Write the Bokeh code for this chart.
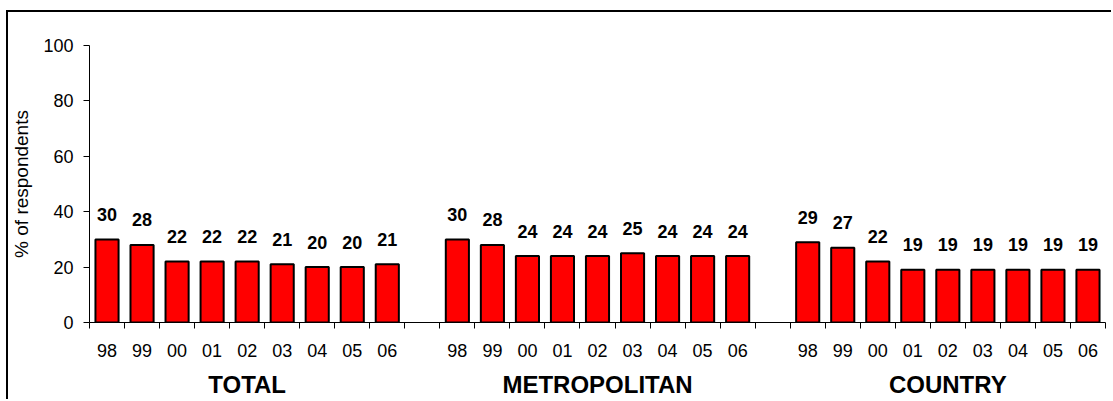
from bokeh.plotting import figure
from bokeh.models import FixedTicker, LinearAxis, Range1d
from bokeh.core.properties import value
from bokeh.embed import file_html
from bokeh.resources import INLINE

groups = ["TOTAL", "METROPOLITAN", "COUNTRY"]
years = ["98", "99", "00", "01", "02", "03", "04", "05", "06"]
total = [30, 28, 22, 22, 22, 21, 20, 20, 21]
metropolitan = [30, 28, 24, 24, 24, 25, 24, 24, 24]
country = [29, 27, 22, 19, 19, 19, 19, 19, 19]
y_ticks = [0, 20, 40, 60, 80, 100]

series = [total, metropolitan, country]
FONT = "Liberation Sans"

xs, tops, labels = [], [], []
overrides = {}
for g, vals in enumerate(series):
    for i, v in enumerate(vals):
        c = g * 10 + i + 0.5
        xs.append(c)
        tops.append(v)
        labels.append(str(v))
        overrides[c] = years[i]

n_slots = len(groups) * len(years) + (len(groups) - 1)

p = figure(width=1105, height=389, output_backend="svg", toolbar_location=None,
           x_range=Range1d(0, n_slots), y_range=Range1d(0, 100),
           min_border_left=81, min_border_right=8, min_border_top=33, min_border_bottom=79,
           x_axis_location=None, y_axis_location=None)
p.margin = (10, 0, 0, 6)
p.styles = {"border-left": "2px solid black", "border-top": "2px solid black"}
p.grid.visible = False
p.outline_line_color = None
p.background_fill_color = "white"
p.border_fill_color = "white"

p.vbar(x=xs, top=tops, width=0.66, fill_color="#FF0000", line_color="black", line_width=2)
p.text(x=xs, y=tops, text=labels, text_align="center", text_baseline="alphabetic",
       y_offset=-25, text_font=value(FONT), text_font_style="bold", text_font_size="18px",
       text_color="black")

# y axis
ya = LinearAxis(ticker=FixedTicker(ticks=y_ticks, minor_ticks=[]))
ya.axis_label = "% of respondents"
ya.axis_label_text_font = FONT
ya.axis_label_text_font_style = "normal"
ya.axis_label_text_font_size = "19px"
ya.axis_label_text_color = "black"
ya.axis_label_standoff = 8
ya.major_label_text_font = FONT
ya.major_label_text_font_size = "18px"
ya.major_label_text_color = "black"
ya.major_label_standoff = 10
ya.major_tick_out = 6
ya.major_tick_in = 0
ya.axis_line_color = "black"
ya.major_tick_line_color = "black"
p.add_layout(ya, "left")

# x axis with year labels
boundaries = list(range(0, n_slots + 1))
xa = LinearAxis(ticker=FixedTicker(ticks=xs, minor_ticks=boundaries))
xa.major_label_overrides = overrides
xa.major_label_text_font = FONT
xa.major_label_text_font_size = "18px"
xa.major_label_text_color = "black"
xa.major_label_standoff = 15
xa.major_tick_out = 0
xa.major_tick_in = 0
xa.minor_tick_out = 6
xa.minor_tick_in = 0
xa.minor_tick_line_color = "black"
xa.axis_line_color = "black"
p.add_layout(xa, "below")

# group labels axis
centers = [g * 10 + 4.5 for g in range(len(groups))]
ga = LinearAxis(ticker=FixedTicker(ticks=centers, minor_ticks=[]))
ga.major_label_overrides = {c: groups[g] for g, c in enumerate(centers)}
ga.major_label_text_font = FONT
ga.major_label_text_font_style = "bold"
ga.major_label_text_font_size = "24px"
ga.major_label_text_color = "black"
ga.major_label_standoff = 5
ga.major_tick_line_color = None
ga.axis_line_color = None
p.add_layout(ga, "below")

open("out.html", "w").write(file_html(p, INLINE))
